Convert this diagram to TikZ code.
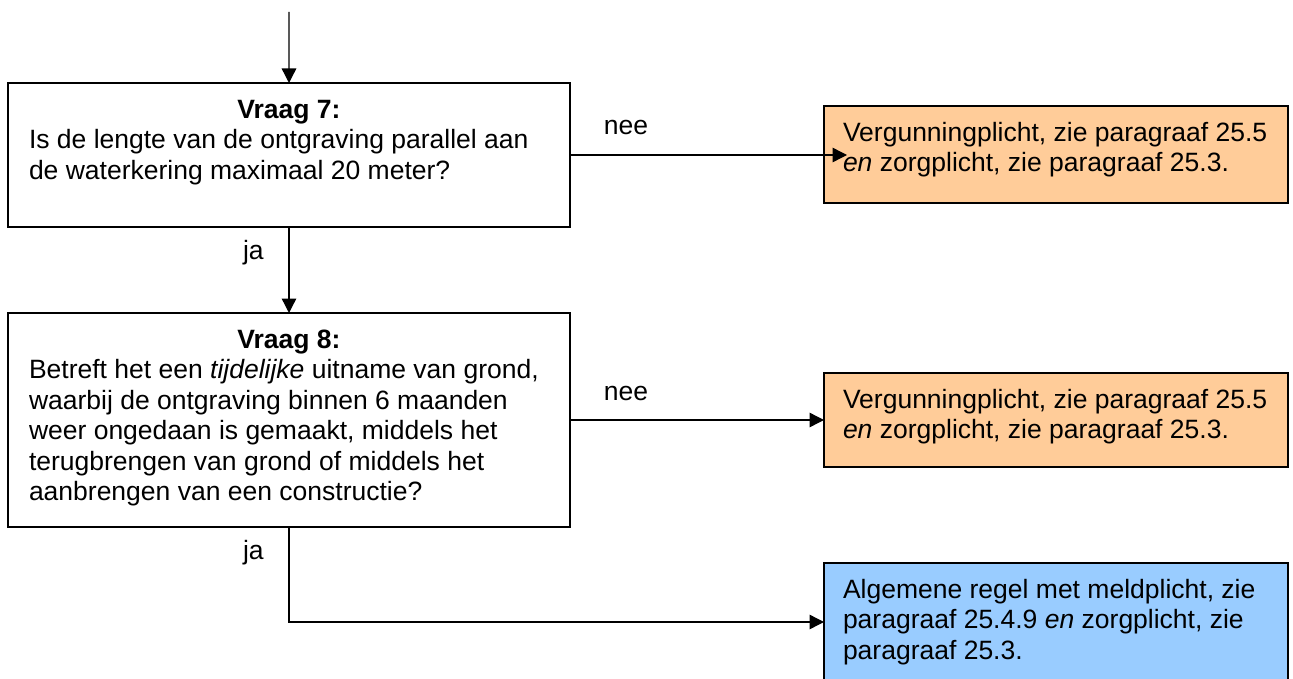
\documentclass[tikz,border=0pt]{standalone}
\usepackage{fontspec}
\setmainfont{Liberation Sans}
\usetikzlibrary{arrows.meta}

\begin{document}
\begin{tikzpicture}[x=0.4pt, y=-0.4pt,
	every node/.style={font=\fontsize{10.6}{12.2}\selectfont},
	box/.style={draw, line width=0.8pt, rectangle, anchor=north west, inner sep=0pt, outer sep=0pt},
	pijl/.style={-{Triangle[length=5.8pt, width=5.8pt]}, line width=0.55pt},
	nee/.style={anchor=base, yshift=8pt},
	ja/.style={anchor=base east, xshift=-6.5pt}]
	\useasboundingbox (0,0) rectangle (1293,679);
	
	\definecolor{oranje}{RGB}{255,204,153}
	\definecolor{lichtblauw}{RGB}{153,204,255}
	
%links
	%Vraag 7
	\coordinate (begin) at (289,12);
	\node[box] (q7) at (8,83) {\parbox[c][57.6pt][t]{224.8pt}{%
		{\centering\rule{0pt}{14pt}\textbf{Vraag 7:}\par}
		\raggedright\leftskip=8.4pt
		Is de lengte van de ontgraving parallel aan\\
		de waterkering maximaal 20 meter?}};
	
	%Vraag 8
	\node[box] (q8) at (8,313) {\parbox[c][85.6pt][t]{224.8pt}{%
		{\centering\rule{0pt}{14pt}\textbf{Vraag 8:}\par}
		\raggedright\leftskip=8.4pt
		Betreft het een \emph{tijdelijke} uitname van grond,\\
		waarbij de ontgraving binnen 6 maanden\\
		weer ongedaan is gemaakt, middels het\\
		terugbrengen van grond of middels het\\
		aanbrengen van een constructie?}};
	
%rechts
	\node[box, fill=oranje] (v7) at (824,106) {\parbox[c][38.8pt][t]{185.6pt}{%
		\raggedright\leftskip=7.6pt
		\rule{0pt}{14pt}Vergunningplicht, zie paragraaf 25.5\\
		\emph{en} zorgplicht, zie paragraaf 25.3.}};
	
	\node[box, fill=oranje] (v8) at (824,373) {\parbox[c][37.6pt][t]{185.6pt}{%
		\raggedright\leftskip=7.6pt
		\rule{0pt}{14pt}Vergunningplicht, zie paragraaf 25.5\\
		\emph{en} zorgplicht, zie paragraaf 25.3.}};
	
	\node[box, fill=lichtblauw] (m8) at (824,563) {\parbox[c][47.2pt][t]{185.6pt}{%
		\raggedright\leftskip=7.6pt
		\rule{0pt}{14pt}Algemene regel met meldplicht, zie\\
		paragraaf 25.4.9 \emph{en} zorgplicht, zie\\
		paragraaf 25.3.}};
	
%Pijlen
	\draw[pijl] (begin) -- (q7.north);
	\draw[pijl, shorten >=-9.2pt] (q7.east) -- node[nee, pos=0.22] {nee} (q7.east -| v7.west);
	\draw[pijl] (q7.south) -- node[ja, pos=0.38] {ja} (q8.north);
	\draw[pijl] (q8.east) -- node[nee, pos=0.22] {nee} (q8.east -| v8.west);
	\draw[pijl] (q8.south) |- node[ja, pos=0.17] {ja} (m8.west);
	
\end{tikzpicture}
\end{document}
